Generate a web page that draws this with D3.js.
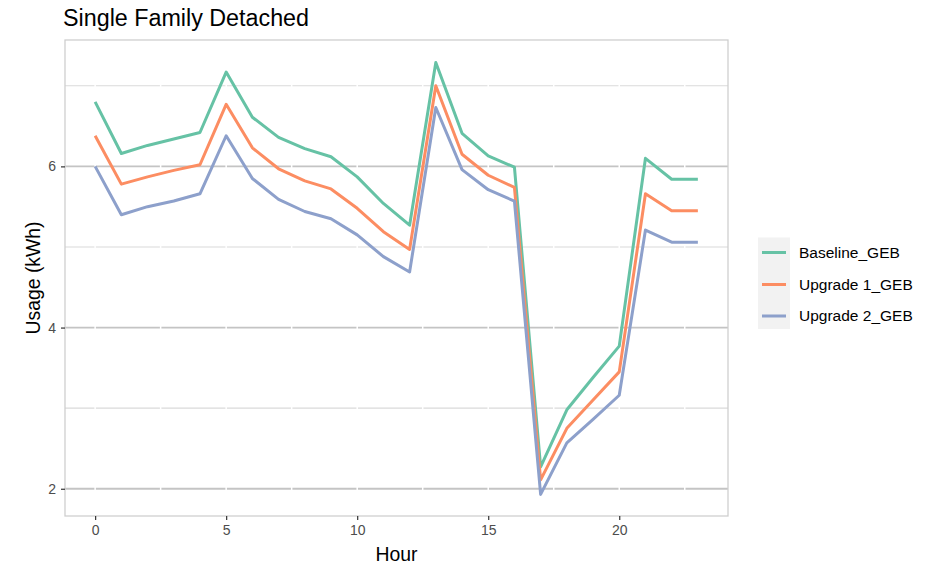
<!DOCTYPE html>
<html>
<head>
<meta charset="utf-8">
<script src="https://cdn.jsdelivr.net/npm/d3@7"></script>
<style>
  body { margin: 0; background: #fff; }
  svg { display: block; font-family: "Liberation Sans", Arial, sans-serif; }
</style>
</head>
<body>
<svg id="chart" width="928" height="566"></svg>
<script>
const hours = d3.range(0, 24);
const seriesNames = ["Baseline_GEB", "Upgrade 1_GEB", "Upgrade 2_GEB"];
const baseline = [6.80, 6.16, 6.26, 6.34, 6.42, 7.17, 6.61, 6.36, 6.22, 6.12, 5.87, 5.54, 5.27, 7.29, 6.41, 6.13, 5.99, 2.27, 2.98, 3.38, 3.77, 6.10, 5.84, 5.84];
const upgrade1 = [6.38, 5.78, 5.87, 5.95, 6.02, 6.77, 6.23, 5.97, 5.82, 5.72, 5.48, 5.19, 4.97, 7.00, 6.15, 5.89, 5.74, 2.11, 2.75, 3.10, 3.45, 5.66, 5.45, 5.45];
const upgrade2 = [6.00, 5.40, 5.50, 5.57, 5.66, 6.38, 5.85, 5.59, 5.44, 5.35, 5.15, 4.88, 4.69, 6.73, 5.96, 5.71, 5.57, 1.93, 2.57, 2.86, 3.16, 5.21, 5.06, 5.06];
const colors = ["#66C2A5", "#FC8D62", "#8DA0CB"];
const xTicks = [0, 5, 10, 15, 20];
const yTicks = [2, 4, 6];
const yMinor = [3, 5, 7];
const xMinor = [2.5, 7.5, 12.5, 17.5, 22.5];

const series = [baseline, upgrade1, upgrade2];

const svg = d3.select("#chart");
const L = 65, R = 728, T = 40, B = 516;

const x = d3.scaleLinear().domain([-1.15, 24.15]).range([L, R]);
const y = d3.scaleLinear().domain([1.662, 7.568]).range([B, T]);

// panel background
svg.append("rect").attr("x", L).attr("y", T).attr("width", R - L).attr("height", B - T).attr("fill", "#fff");

// horizontal grid
svg.append("g").selectAll("line").data(yMinor).join("line")
  .attr("x1", L).attr("x2", R).attr("y1", d => y(d)).attr("y2", d => y(d))
  .attr("stroke", "#dadada").attr("stroke-width", 1.1);
svg.append("g").selectAll("line").data(yTicks).join("line")
  .attr("x1", L).attr("x2", R).attr("y1", d => y(d)).attr("y2", d => y(d))
  .attr("stroke", "#c4c4c4").attr("stroke-width", 1.8);
// vertical white grid
svg.append("g").selectAll("line").data(xTicks.concat(xMinor)).join("line")
  .attr("x1", d => x(d)).attr("x2", d => x(d)).attr("y1", T).attr("y2", B)
  .attr("stroke", "#ffffff").attr("stroke-width", 1.5);

// lines
const line = d3.line().x((d, i) => x(hours[i])).y(d => y(d));
svg.append("g").selectAll("path").data(series).join("path")
  .attr("d", d => line(d))
  .attr("fill", "none")
  .attr("stroke", (d, i) => colors[i])
  .attr("stroke-width", 3)
  .attr("stroke-linejoin", "round");

// panel border
svg.append("rect").attr("x", L).attr("y", T).attr("width", R - L).attr("height", B - T)
  .attr("fill", "none").attr("stroke", "#cfcfcf").attr("stroke-width", 1.3);

// axes
const xAxis = d3.axisBottom(x).tickValues(xTicks).tickSize(4).tickPadding(5).tickFormat(d3.format("d"));
const gx = svg.append("g").attr("transform", `translate(0,${B})`).call(xAxis);
gx.select(".domain").remove();
gx.selectAll(".tick line").attr("stroke", "#333").attr("stroke-width", 1.2);
gx.selectAll(".tick text").attr("fill", "#4d4d4d").attr("font-size", 14)
  .attr("font-family", "Liberation Sans, Arial, sans-serif");

const yAxis = d3.axisLeft(y).tickValues(yTicks).tickSize(4).tickPadding(5).tickFormat(d3.format("d"));
const gy = svg.append("g").attr("transform", `translate(${L},0)`).call(yAxis);
gy.select(".domain").remove();
gy.selectAll(".tick line").attr("stroke", "#333").attr("stroke-width", 1.2);
gy.selectAll(".tick text").attr("fill", "#4d4d4d").attr("font-size", 14)
  .attr("font-family", "Liberation Sans, Arial, sans-serif");

// titles
svg.append("text").attr("x", 63).attr("y", 26).attr("font-size", 23.3).attr("fill", "#000")
  .text("Single Family Detached");
svg.append("text").attr("x", (L + R) / 2).attr("y", 561).attr("text-anchor", "middle")
  .attr("font-size", 19.4).attr("fill", "#000").text("Hour");
svg.append("text").attr("transform", `translate(40,${(T + B) / 2}) rotate(-90)`)
  .attr("text-anchor", "middle").attr("font-size", 19.4).attr("fill", "#000").text("Usage (kWh)");

// legend
const lg = svg.append("g");
lg.append("rect").attr("x", 758).attr("y", 237.5).attr("width", 32).attr("height", 91.5).attr("fill", "#f2f2f2");
const ly = [252.5, 284.5, 316];
seriesNames.forEach((n, i) => {
  lg.append("line").attr("x1", 762).attr("x2", 786).attr("y1", ly[i]).attr("y2", ly[i])
    .attr("stroke", colors[i]).attr("stroke-width", 3);
  lg.append("text").attr("x", 799).attr("y", ly[i] + 5.3).attr("font-size", 15.5).attr("fill", "#000").text(n);
});
</script>
</body>
</html>
